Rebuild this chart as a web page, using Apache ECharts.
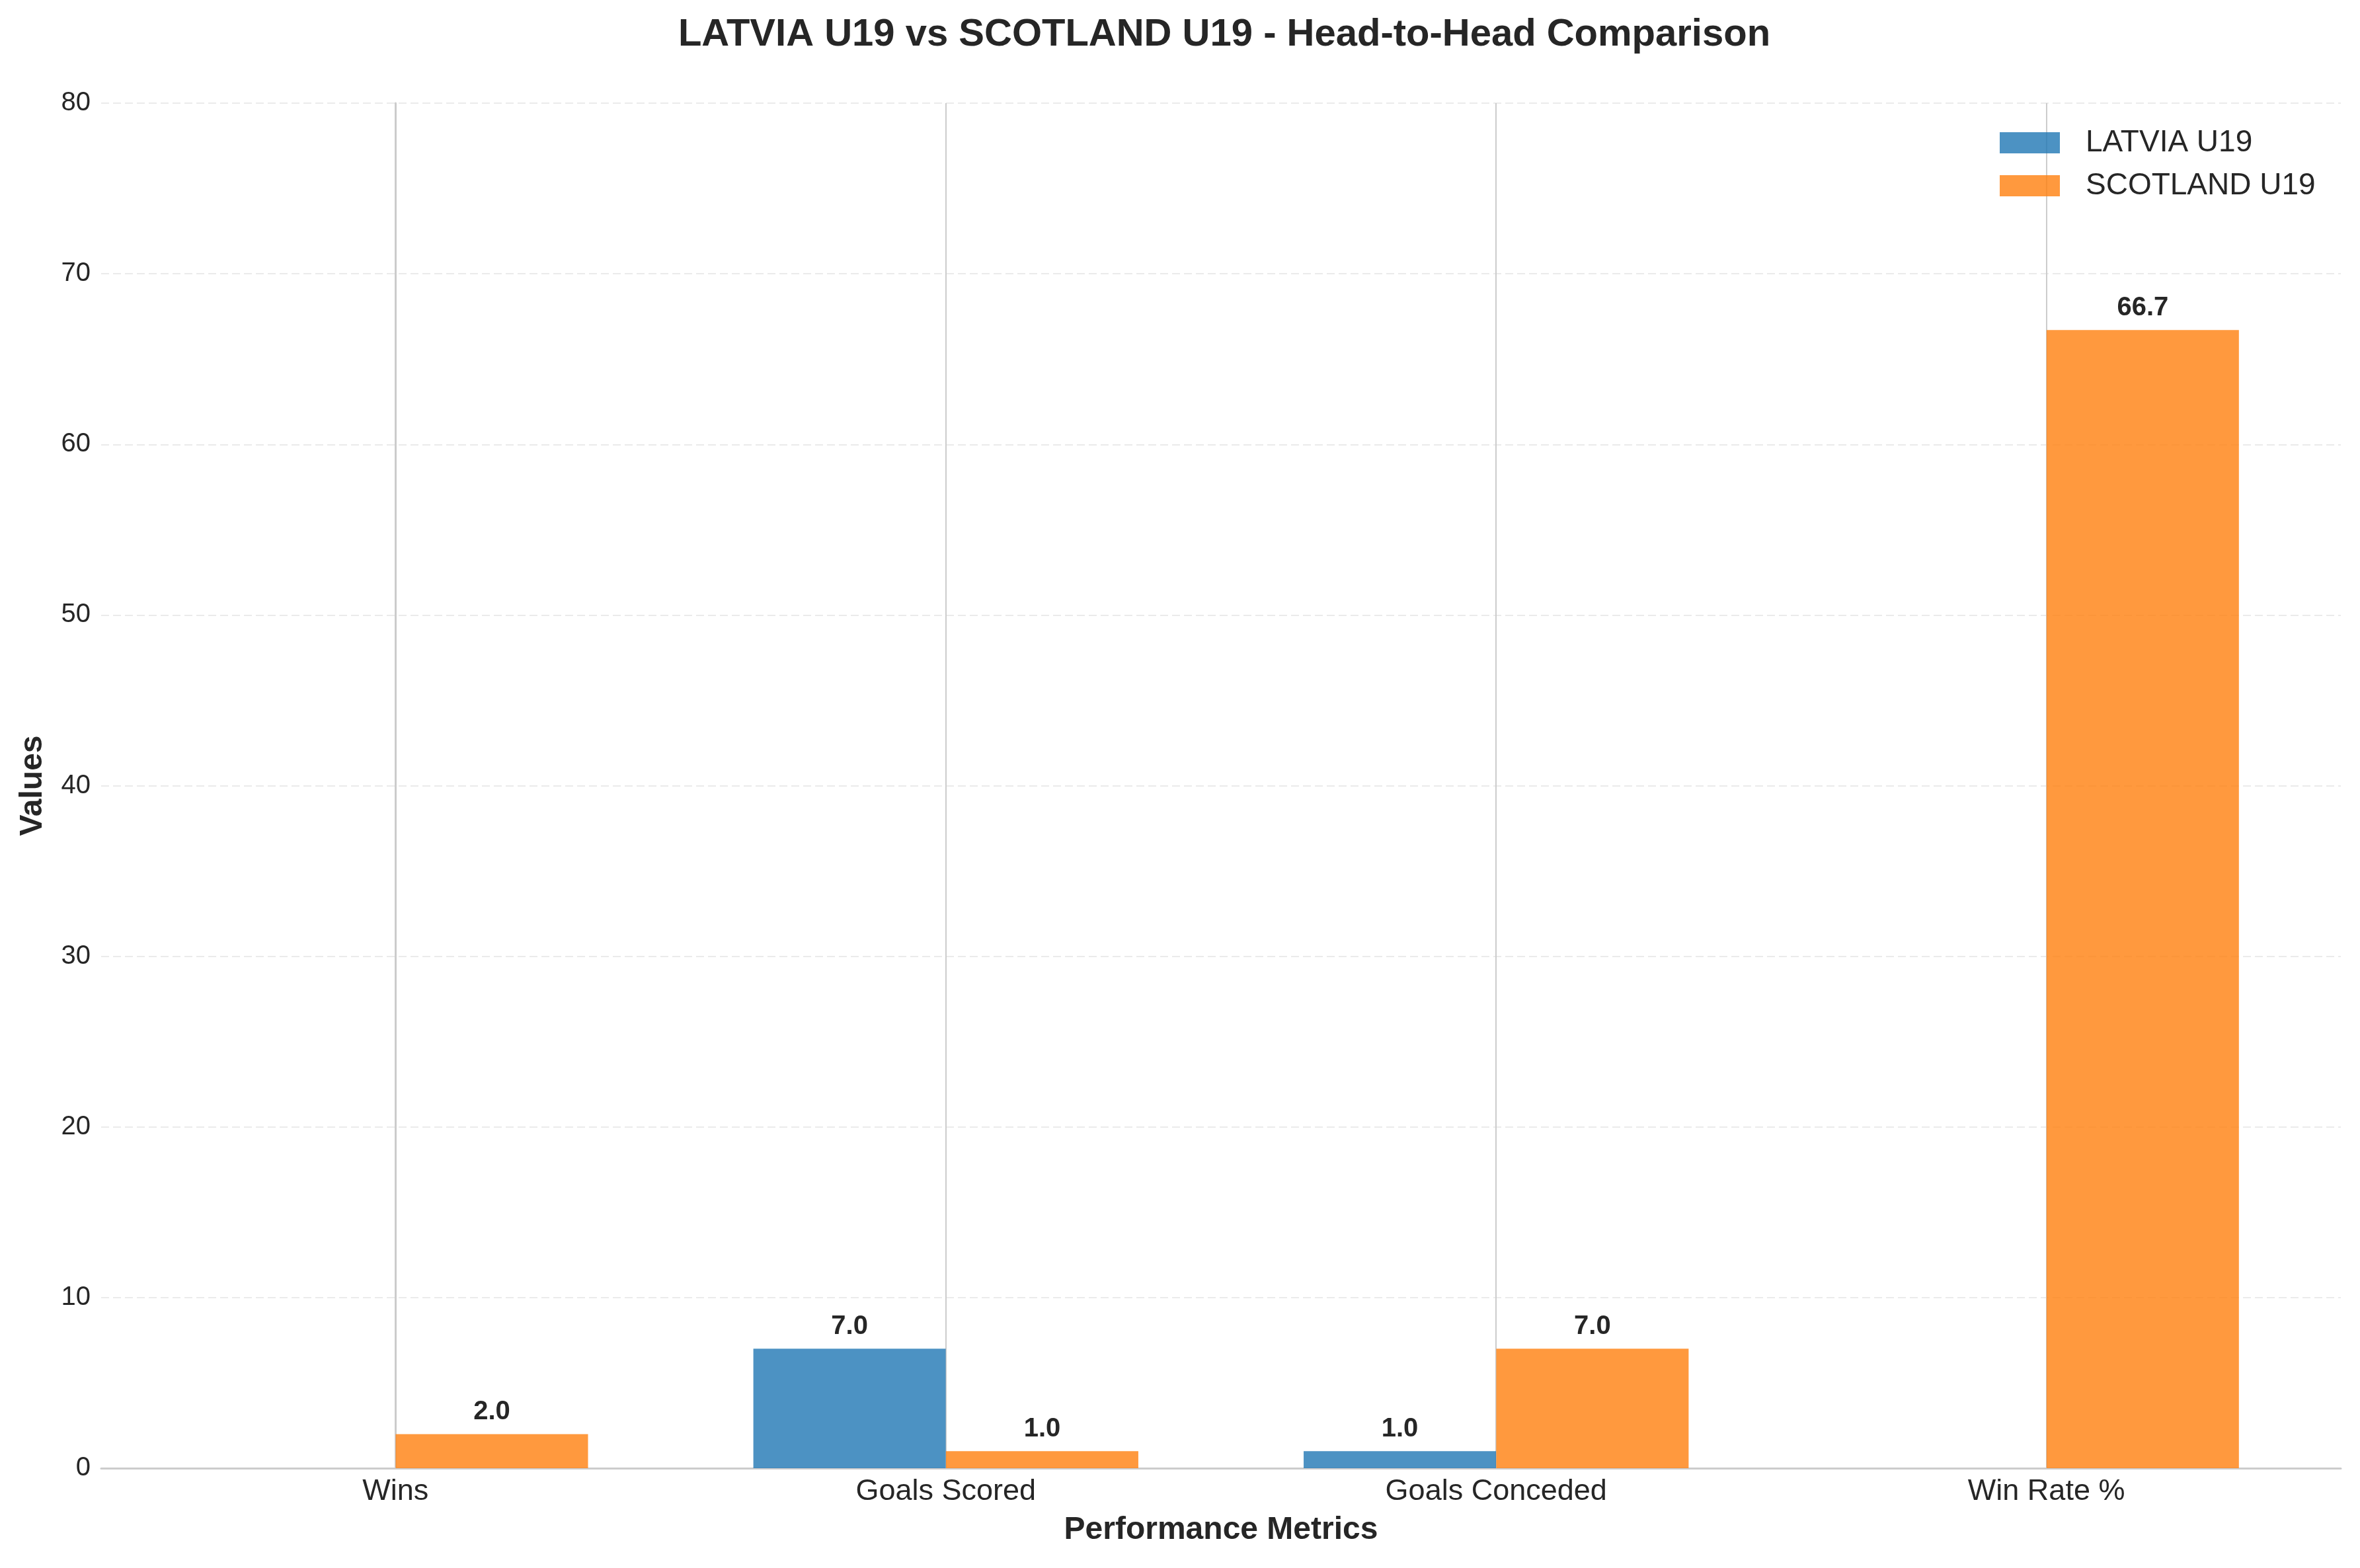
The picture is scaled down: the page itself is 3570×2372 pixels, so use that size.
<!DOCTYPE html>
<html>
<head>
<meta charset="utf-8">
<script src="https://cdn.jsdelivr.net/npm/echarts@6/dist/echarts.min.js"></script>
<style>
  html, body { margin: 0; padding: 0; background: #fff; }
  #chart { width: 3570px; height: 2372px; }
</style>
</head>
<body>
<div id="chart"></div>
<script>
const categories = ['Wins', 'Goals Scored', 'Goals Conceded', 'Win Rate %']
const latvia = [0, 7, 1, 0]
const scotland = [2, 1, 7, 66.7]
const yTicks = { min: 0, max: 80, step: 10 }

const FONT = '"Liberation Sans", Arial, Helvetica, sans-serif'
const TEXT = '#262626'
const BAR = 0.35 // bar width in category units, like matplotlib

const chart = echarts.init(document.getElementById('chart'), null, { renderer: 'canvas' })

function pairs(values, shift) {
  return values.map((v, i) => [i + shift, v])
}

const valueLabel = {
  show: true,
  position: 'top',
  distance: 13,
  fontFamily: FONT,
  fontSize: 40,
  fontWeight: 'bold',
  color: TEXT,
  formatter: (p) => (p.value[1] ? p.value[1].toFixed(1) : ''),
}

chart.setOption({
  backgroundColor: '#ffffff',
  animation: false,
  title: {
    text: 'LATVIA U19 vs SCOTLAND U19 - Head-to-Head Comparison',
    left: 1847,
    textAlign: 'center',
    top: 19,
    textStyle: { fontFamily: FONT, fontSize: 58, fontWeight: 'bold', color: TEXT },
  },
  legend: {
    orient: 'vertical',
    left: 3025,
    top: 193,
    padding: 0,
    itemWidth: 91,
    itemHeight: 32,
    itemGap: 19,
    icon: 'rect',
    textStyle: { fontFamily: FONT, fontSize: 46, color: TEXT, lineHeight: 46, padding: [0, 0, 0, 34] },
  },
  grid: { left: 153, right: 29, top: 156, bottom: 151 },
  xAxis: {
    type: 'value',
    // matplotlib pads the bar extent (-0.35..3.35) by 5%
    min: -0.535,
    max: 3.535,
    name: 'Performance Metrics',
    nameLocation: 'middle',
    nameGap: 70,
    nameTextStyle: { fontFamily: FONT, fontSize: 48, fontWeight: 'bold', color: TEXT },
    axisLine: { show: true, lineStyle: { color: '#cccccc', width: 3 } },
    axisTick: { show: false },
    splitLine: { show: false },
    axisLabel: {
      customValues: [0, 1, 2, 3],
      formatter: (v) => categories[Math.round(v)] ?? '',
      margin: 13,
      fontFamily: FONT,
      fontSize: 45,
      color: TEXT,
    },
  },
  yAxis: {
    type: 'value',
    min: yTicks.min,
    max: yTicks.max,
    interval: yTicks.step,
    name: 'Values',
    nameLocation: 'middle',
    nameGap: 79,
    nameTextStyle: { fontFamily: FONT, fontSize: 48, fontWeight: 'bold', color: TEXT },
    axisLine: { show: true, lineStyle: { color: '#cccccc', width: 3 } },
    axisTick: { show: false },
    axisLabel: { margin: 16, fontFamily: FONT, fontSize: 40, color: TEXT },
    splitLine: { show: true, lineStyle: { color: '#ebebeb', width: 2, type: [12, 6] } },
  },
  series: [
    {
      name: 'LATVIA U19',
      type: 'bar',
      barWidth: 291,
      barGap: '-100%',
      data: pairs(latvia, -BAR / 2),
      itemStyle: { color: 'rgba(31,119,180,0.8)' },
      label: valueLabel,
      markLine: {
        silent: true,
        symbol: 'none',
        label: { show: false },
        lineStyle: { color: '#cccccc', width: 2, type: 'solid' },
        data: categories.map((c, i) => ({ xAxis: i })),
        z: 1,
      },
    },
    {
      name: 'SCOTLAND U19',
      type: 'bar',
      barWidth: 291,
      barGap: '-100%',
      data: pairs(scotland, BAR / 2),
      itemStyle: { color: 'rgba(255,127,14,0.8)' },
      label: valueLabel,
    },
  ],
})
</script>
</body>
</html>
